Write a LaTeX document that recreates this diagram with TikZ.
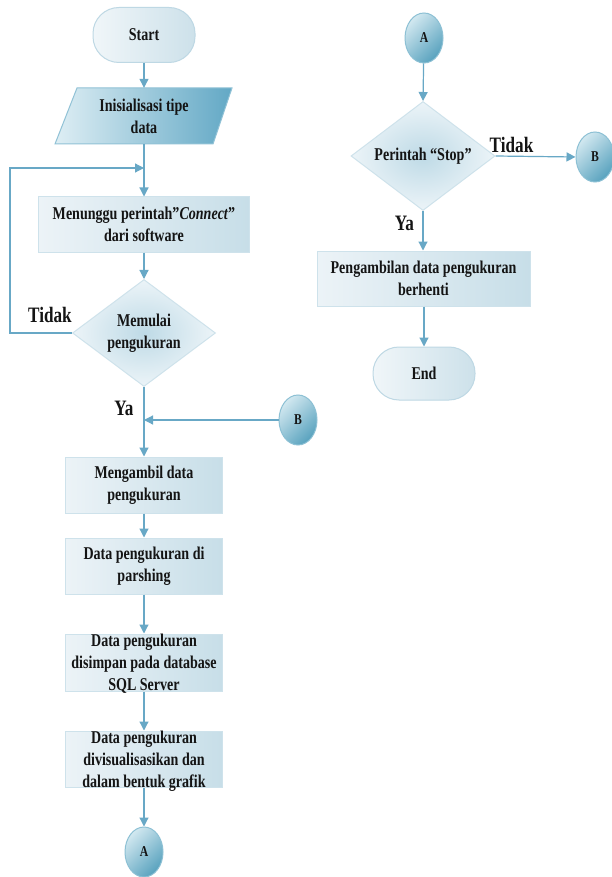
\documentclass[tikz,border=0pt]{standalone}
\usepackage{fontspec}
\setmainfont{Liberation Serif}[FakeStretch=0.78]
\usetikzlibrary{shapes.geometric,arrows.meta}
\definecolor{lineC}{RGB}{104,168,198}
\definecolor{boxL}{RGB}{236,243,247}
\definecolor{boxR}{RGB}{199,222,232}
\definecolor{boxB}{RGB}{206,226,235}
\definecolor{termL}{RGB}{240,246,249}
\definecolor{termR}{RGB}{205,225,234}
\definecolor{termB}{RGB}{190,216,228}
\definecolor{parL}{RGB}{222,238,244}
\definecolor{parR}{RGB}{98,168,197}
\definecolor{circL}{RGB}{210,232,240}
\definecolor{circR}{RGB}{88,162,190}
\definecolor{circB}{RGB}{140,192,212}
\definecolor{diaIn}{RGB}{190,218,230}
\definecolor{diaOut}{RGB}{236,244,248}
\definecolor{txt}{RGB}{20,20,20}
\begin{document}
\begin{tikzpicture}[x=1pt,y=-1pt,
  font=\fontsize{18}{22}\selectfont\bfseries, text=txt,
  arr/.style={draw=lineC, line width=1.2pt, -{Triangle[width=9pt,length=9pt]}},
  ln/.style={draw=lineC, line width=1.2pt},
  procbox/.style={rectangle, draw=boxB, line width=1pt, left color=boxL, right color=boxR,
    minimum width=157pt, minimum height=56pt, inner sep=1pt, align=center},
  term/.style={rectangle, rounded corners=26pt, draw=termB, line width=1pt,
    left color=termL, right color=termR, minimum width=102pt, minimum height=55pt, align=center},
  conn/.style={ellipse, draw=circB, line width=1pt, shading=axis, top color=circL,
    bottom color=circR, shading angle=45, minimum width=38pt, minimum height=50pt,
    inner sep=0pt, font=\fontsize{15}{18}\selectfont\bfseries},
  dec/.style={diamond, draw=boxB, line width=1pt, inner color=diaIn, outer color=diaOut,
    aspect=1.34, minimum width=143pt, minimum height=107pt, inner sep=0pt, align=center},
  plain/.style={inner sep=0pt, align=center},
  lab/.style={font=\fontsize{22}{26}\selectfont\bfseries, inner sep=0pt}]
\useasboundingbox (0,0) rectangle (611,877);
\fill[white] (0,0) rectangle (611,877);

% left column
\node[term] (start) at (144,35) {Start};
\shade[left color=parL, right color=parR, draw=parR!70, line width=1pt]
  (77,88) -- (232,88) -- (213,144) -- (55,144) -- cycle;
\node[plain, minimum height=56pt] (init) at (144,116) {Inisialisasi tipe\\data};
\node[procbox, minimum width=211pt, minimum height=55pt] (wait) at (144,224.5)
  {Menunggu perintah”\textit{Connect}”\\dari software};
\node[dec] (mulai) at (144,333) {Memulai\\pengukuran};
\node[procbox] (ambil) at (144,485) {Mengambil data\\pengukuran};
\node[procbox] (parse) at (144,566) {Data pengukuran di\\parshing};
\node[procbox, minimum height=57pt] (simpan) at (144,662.5) {};
\node[plain] (simpanT) at (144,664) {Data pengukuran\\disimpan pada database\\SQL Server};
\node[procbox] (visual) at (144,759) {};
\node[plain] (visualT) at (144,761) {Data pengukuran\\divisualisasikan dan\\dalam bentuk grafik};
\node[conn] (Aout) at (144,852) {A};
\node[conn] (Bleft) at (298,420) {B};

\coordinate (lp) at (10,168);
\coordinate (j1) at (144,168);
\coordinate (j2) at (144,420);

\draw[arr] (start) -- (init.north);
\draw[arr] (init.south) -- (wait.north);
\draw[arr] (mulai.west) -| (lp) -- (j1);
\draw[arr] (wait) -- (mulai);
\draw[arr] (mulai.south) -- (ambil.north);
\draw[arr] (Bleft.west) -- (j2);
\draw[arr] (ambil) -- (parse);
\draw[arr] (parse) -- (simpan);
\draw[arr] (simpan) -- (visual);
\draw[arr] (visual) -- (Aout);

\node[lab] (tidak1) at (50,315) {Tidak};
\node[lab] (ya1) at (124,408) {Ya};

% right column
\node[conn] (Ain) at (424,38) {A};
\node[dec, minimum width=144pt, minimum height=109pt] (stop) at (423,156) {Perintah “Stop”};
\node[conn] (Bright) at (595,157) {B};
\node[procbox, minimum width=213pt, minimum height=55pt] (henti) at (423.5,278.5)
  {Pengambilan data pengukuran\\berhenti};
\node[term, minimum height=53pt] (end) at (424,373.5) {End};

\draw[arr] (Ain) -- (stop.north);
\draw[arr] (stop.east) -- (Bright.west);
\draw[arr] (stop.south) -- (stop.south |- henti.north);
\draw[arr] (henti.south -| end) -- (end.north);

\node[lab] (tidak2) at (511.5,145) {Tidak};
\node[lab] (ya2) at (404.5,223.5) {Ya};
\end{tikzpicture}
\end{document}
